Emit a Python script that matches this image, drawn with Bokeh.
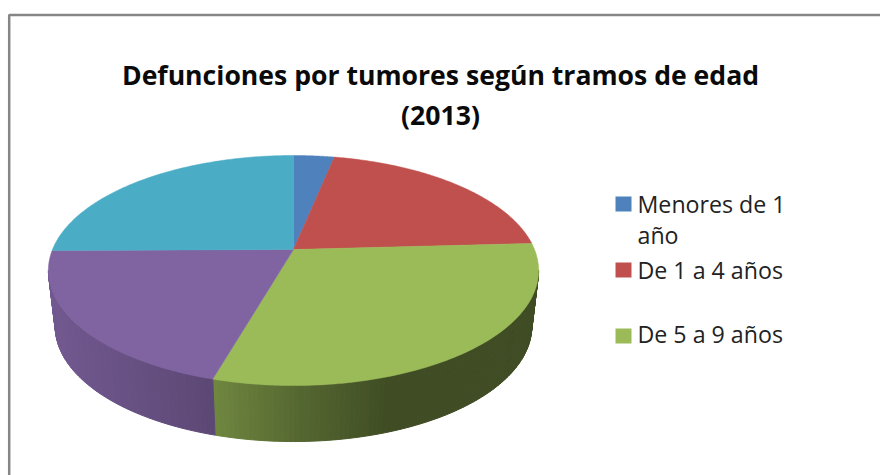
import numpy as np
from bokeh.plotting import figure
from bokeh.models import Range1d
from bokeh.core.properties import value
from bokeh.embed import file_html
from bokeh.resources import INLINE

# Data (shares in %)
title_lines = ["Defunciones por tumores según tramos de edad", "(2013)"]
shares = [3.2, 20.9, 30.3, 20.4, 25.1]
colors = ["#4F81BD", "#C0504D", "#9BBB59", "#8064A2", "#4BACC6"]
legend_labels = ["Menores de 1\naño", "De 1 a 4 años", "De 5 a 9 años"]

W, H = 880, 475
p = figure(width=W, height=H, output_backend="svg", toolbar_location=None,
           x_range=Range1d(0, W), y_range=Range1d(H, 0),
           x_axis_type=None, y_axis_type=None, min_border=0,
           outline_line_color=None, background_fill_color="white", border_fill_color="white")
p.grid.visible = False

# Geometry of the 3D pie on screen
CX, APEX_Y, A, B, C = 293.0, 249.0, 241.0, 111.2, 0.1826
DEPTH, SHRINK = 56.0, 0.972

def top(t):
    w = 1 + C * np.cos(t)
    return CX + A * np.sin(t) / w, APEX_Y - B * np.cos(t) / w

def bottom(t):
    x, y = top(t)
    return CX + (x - CX) * SHRINK, y + DEPTH

def shade(hex_color, x):
    f = np.interp(x, [50, 213, 300, 390], [0.89, 0.72, 0.55, 0.41])
    r, g, b = (int(hex_color[i:i + 2], 16) for i in (1, 3, 5))
    return "#%02x%02x%02x" % (int(r * f), int(g * f), int(b * f))

edges = np.cumsum([0] + shares) / sum(shares) * 2 * np.pi

# Side wall, drawn as narrow strips for the shading
grid = np.linspace(0, 2 * np.pi, 2001)
gx, _ = top(grid)
t_right, t_left = grid[np.argmax(gx)], grid[np.argmin(gx)]
xs, ys, fc = [], [], []
for i, col in enumerate(colors):
    lo, hi = max(edges[i], t_right), min(edges[i + 1], t_left)
    if hi <= lo:
        continue
    ts = np.linspace(lo, hi, max(2, int((hi - lo) / np.radians(1.0)) + 1))
    for t0, t1 in zip(ts[:-1], ts[1:]):
        x0, y0 = top(t0); x1, y1 = top(t1)
        x2, y2 = bottom(t1); x3, y3 = bottom(t0)
        xs.append([x0, x1, x2, x3]); ys.append([y0, y1, y2, y3])
        fc.append(shade(col, (x0 + x1) / 2))
p.patches(xs, ys, fill_color=fc, line_color=fc, line_width=1)

# Top face
for i, col in enumerate(colors):
    ts = np.linspace(edges[i], edges[i + 1], 120)
    x, y = top(ts)
    p.patch(np.r_[CX, x], np.r_[APEX_Y, y], fill_color=col, line_color=col, line_width=0.5)

# Frame (left and top sides are visible in the window)
p.line([8.7, 8.7, W], [H, 14.5, 14.5], line_color="#868686", line_width=2.5)

# Title
p.text([440, 440], [74, 114], text=title_lines, text_align="center", text_baseline="middle",
       text_font=value("Open Sans"), text_font_style="bold", text_font_size="26.6px", text_color="#0a0a0a")

# Legend
swatch_y = [203.5, 269.5, 335.5]
text_y = [203, 269, 333]
p.rect([623] * 3, swatch_y, width=16, height=15, fill_color=colors[:3], line_color=None)
p.text([637] * 3, text_y, text=[l.split("\n")[0] for l in legend_labels],
       text_align="left", text_baseline="middle",
       text_font=value("Open Sans"), text_font_size="23.2px", text_color="#222222")
p.text([637], [234], text=[legend_labels[0].split("\n")[1]],
       text_align="left", text_baseline="middle",
       text_font=value("Open Sans"), text_font_size="23.2px", text_color="#222222")

open("out.html", "w").write(file_html(p, INLINE))
